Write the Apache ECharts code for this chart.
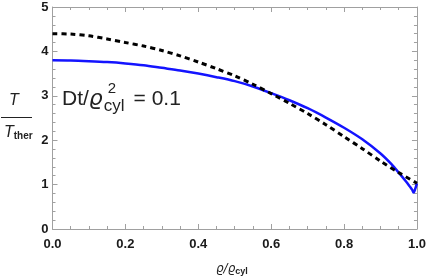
<!DOCTYPE html>
<html><head><meta charset="utf-8">
<script src="https://cdn.jsdelivr.net/npm/echarts@6/dist/echarts.min.js"></script>
<style>html,body{margin:0;padding:0;background:#fff}#c{width:429px;height:279px}</style>
</head><body><div id="c"></div>
<script>
// Data
const rhoDashed = [0, 0.05, 0.1, 0.15, 0.2, 0.25, 0.3, 0.35, 0.4, 0.45, 0.5, 0.55, 0.6, 0.65, 0.7, 0.75, 0.8, 0.85, 0.9, 0.95, 1.0];
const tDashed   = [4.40, 4.39, 4.35, 4.28, 4.20, 4.12, 4.02, 3.90, 3.76, 3.61, 3.45, 3.26, 3.05, 2.83, 2.60, 2.35, 2.08, 1.81, 1.53, 1.27, 1.03];
const rhoBlue   = [0, 0.05, 0.1, 0.15, 0.2, 0.25, 0.3, 0.35, 0.4, 0.45, 0.5, 0.55, 0.6, 0.65, 0.7, 0.75, 0.8, 0.85, 0.9, 0.93, 0.95, 0.97, 0.98, 0.987, 0.991, 0.995, 1.0];
const tBlue     = [3.80, 3.795, 3.78, 3.76, 3.73, 3.69, 3.63, 3.57, 3.50, 3.42, 3.33, 3.21, 3.06, 2.90, 2.72, 2.51, 2.28, 2.02, 1.70, 1.46, 1.27, 1.07, 0.96, 0.88, 0.82, 0.90, 1.03];
const xTicks = [0.0, 0.2, 0.4, 0.6, 0.8, 1.0];
const yTicks = [0, 1, 2, 3, 4, 5];

const chart = echarts.init(document.getElementById('c'), null, {renderer: 'canvas'});
const frameColor = '#a0a0a0';
const labelStyle = {fontFamily: 'Liberation Sans', fontWeight: 'bold', fontSize: 13, color: '#1a1a1a'};
function axisCommon(extra, split) {
  return Object.assign({
    type: 'value',
    axisLine: {show: true, onZero: false, lineStyle: {color: frameColor, width: 1}},
    axisTick: {show: true, inside: true, length: 5, lineStyle: {color: frameColor}},
    minorTick: {show: true, splitNumber: split, length: 3, lineStyle: {color: frameColor}},
    splitLine: {show: false},
    minorSplitLine: {show: false}
  }, extra);
}
// measure text to place annotation pieces side by side
const ctx = document.createElement('canvas').getContext('2d');
function w(font, s) { ctx.font = font; return ctx.measureText(s).width; }
const fMain = '21px "Liberation Sans"';
const fRho = 'italic 22px "DejaVu Sans"';
const fSup = '15px "Liberation Sans"';
const fSub = '17px "Liberation Sans"';
const x0 = 62;
const xRho = x0 + w(fMain, 'Dt/');
const xSup = xRho + w(fRho, 'ϱ') + 1;
const xEq = xSup + w(fSub, 'cyl') + 9;

const option = {
  animation: false,
  grid: {left: 52.5, right: 9, top: 7, bottom: 50, show: false},
  xAxis: [
    axisCommon({min: xTicks[0], max: xTicks[xTicks.length-1], interval: 0.2, position: 'bottom',
      axisLabel: Object.assign({margin: 9, formatter: v => v.toFixed(1)}, labelStyle)}, 4),
    axisCommon({min: xTicks[0], max: xTicks[xTicks.length-1], interval: 0.2, position: 'top',
      axisLabel: {show: false}}, 4)
  ],
  yAxis: [
    axisCommon({min: yTicks[0], max: yTicks[yTicks.length-1], interval: 1, position: 'left',
      axisLabel: Object.assign({margin: 4}, labelStyle)}, 5),
    axisCommon({min: yTicks[0], max: yTicks[yTicks.length-1], interval: 1, position: 'right',
      axisLabel: {show: false}}, 5)
  ],
  series: [
    {type: 'line', data: rhoDashed.map((x, i) => [x, tDashed[i]]), showSymbol: false,
      smooth: 0.3,
      lineStyle: {color: '#000', width: 3, type: [5, 4]}, z: 3},
    {type: 'line', data: rhoBlue.map((x, i) => [x, tBlue[i]]), showSymbol: false,
      smooth: 0.3,
      lineStyle: {color: '#1414ff', width: 2.5}, z: 2}
  ],
  graphic: [
    // y-axis label: T / T_ther
    {type: 'text', left: 9, top: 93, style: {text: 'T', font: 'italic 16px "Liberation Sans"', fill: '#222'}},
    {type: 'line', shape: {x1: 1, y1: 117.5, x2: 32, y2: 117.5}, style: {stroke: '#222', lineWidth: 1}},
    {type: 'text', left: 4, top: 125, style: {text: '{t|T}{s|ther}', rich: {
      t: {font: 'italic 16px "Liberation Sans"', fill: '#222'},
      s: {font: 'bold 10px "Liberation Sans"', fill: '#222', padding: [6, 0, 0, 0]}}}},
    // annotation  Dt/ϱ²_cyl = 0.1
    {type: 'text', left: x0, top: 89, style: {text: 'Dt/', font: fMain, fill: '#222'}},
    {type: 'text', left: xRho, top: 88, style: {text: 'ϱ', font: fRho, fill: '#222'}},
    {type: 'text', left: xSup + 4, top: 81, style: {text: '2', font: fSup, fill: '#222'}},
    {type: 'text', left: xSup, top: 98, style: {text: 'cyl', font: fSub, fill: '#222'}},
    {type: 'text', left: xEq, top: 89, style: {text: '= 0.1', font: fMain, fill: '#222'}},
    // x-axis label
    {type: 'text', left: 216, top: 263, style: {text: '{r|ϱ/ϱ}{s|cyl}', rich: {
      r: {font: 'italic 12px "DejaVu Sans"', fill: '#222'},
      s: {font: 'bold 9px "Liberation Sans"', fill: '#222', padding: [5, 0, 0, 0]}}}}
  ]
};
chart.setOption(option);
</script></body></html>
